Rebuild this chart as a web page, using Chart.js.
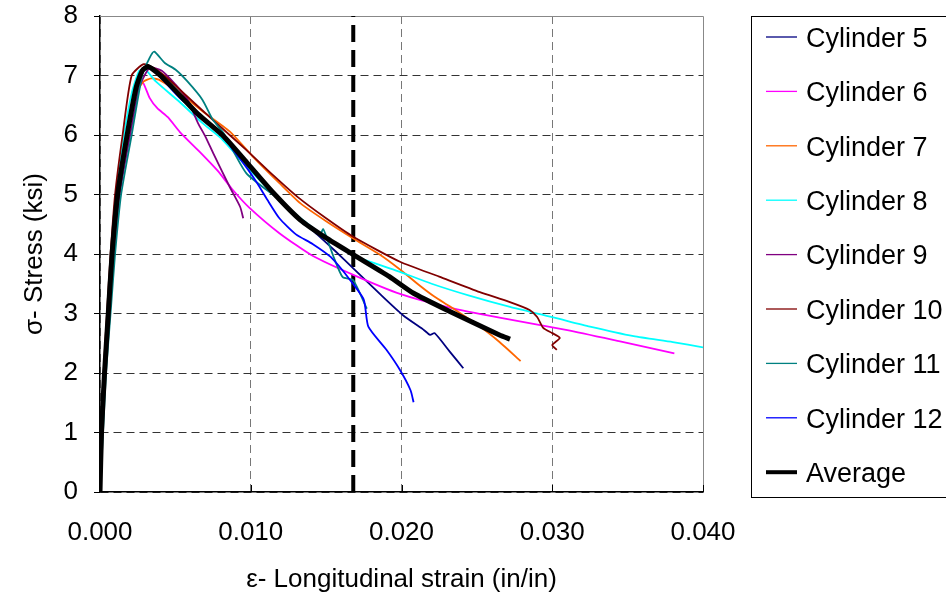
<!DOCTYPE html>
<html>
<head>
<meta charset="utf-8">
<script src="https://cdn.jsdelivr.net/npm/chart.js@4.4.0/dist/chart.umd.min.js"></script>
<style>
  body { margin: 0; background: #fff; }
  #wrap { width: 946px; height: 603px; }
</style>
</head>
<body>
<div id="wrap"><canvas id="stressStrain"></canvas></div>
<script>
// series: [strain (in/in), stress (ksi)]
const cylinder5 = [[0,0],[0.0001,1],[0.0003,2],[0.00055,3],[0.0008,4],[0.00115,5],[0.0018,6],[0.0024,6.85],[0.003,7.15],[0.0036,7.1],[0.0045,6.9],[0.006,6.5],[0.008,6.0],[0.0097,5.55],[0.0111,5.13],[0.0128,4.7],[0.0144,4.33],[0.0156,4.05],[0.0168,3.76],[0.0186,3.32],[0.0201,2.97],[0.0215,2.72],[0.0219,2.64],[0.0222,2.67],[0.0232,2.36],[0.0241,2.08]]
const cylinder6 = [[0,0],[0.0001,1],[0.0003,2],[0.00055,3],[0.0008,4],[0.0012,5],[0.0018,6],[0.0024,6.75],[0.0028,6.9],[0.0033,6.62],[0.0038,6.45],[0.0045,6.3],[0.0053,6.05],[0.0066,5.72],[0.0078,5.4],[0.0088,5.08],[0.0099,4.78],[0.0119,4.35],[0.0141,3.97],[0.0168,3.65],[0.0199,3.33],[0.0232,3.1],[0.0265,2.93],[0.031,2.72],[0.0345,2.53],[0.0381,2.33]]
const cylinder7 = [[0,0],[0.0001,1],[0.0003,2],[0.00055,3],[0.0008,4],[0.00115,5],[0.0018,6],[0.0024,6.7],[0.0029,6.9],[0.0034,6.95],[0.0039,6.93],[0.0053,6.7],[0.0068,6.4],[0.0086,6.06],[0.0102,5.62],[0.0119,5.19],[0.0133,4.85],[0.015,4.55],[0.0168,4.26],[0.0185,4.0],[0.0199,3.74],[0.0212,3.47],[0.0222,3.28],[0.0232,3.12],[0.0252,2.78],[0.0265,2.52],[0.0279,2.2]]
const cylinder8 = [[0,0],[0.0001,1.1],[0.0003,2.1],[0.0005,3],[0.00075,4],[0.0011,5],[0.0016,6],[0.0021,6.7],[0.0026,7.08],[0.003,7.1],[0.0037,6.9],[0.0053,6.55],[0.0068,6.2],[0.008,5.95],[0.0098,5.45],[0.0116,4.98],[0.0133,4.6],[0.015,4.28],[0.0168,3.98],[0.0185,3.82],[0.0199,3.7],[0.022,3.5],[0.0245,3.3],[0.0272,3.11],[0.03,2.94],[0.0325,2.78],[0.0354,2.62],[0.038,2.52],[0.04,2.43]]
const cylinder9 = [[0,0],[0.0001,1],[0.0003,2],[0.0006,3],[0.0009,4],[0.0013,5],[0.002,6],[0.0026,6.8],[0.0033,7.13],[0.0041,7.08],[0.005,6.85],[0.0058,6.6],[0.0065,6.2],[0.007,5.97],[0.0075,5.7],[0.0086,5.13],[0.0093,4.79],[0.0095,4.6]]
const cylinder10 = [[0,0],[0.0001,1.2],[0.0003,2.3],[0.00046,3],[0.0007,4],[0.001,5],[0.0015,6],[0.0021,7],[0.0029,7.19],[0.0036,7.12],[0.0045,6.95],[0.0053,6.76],[0.0075,6.25],[0.0097,5.75],[0.0115,5.32],[0.0131,4.96],[0.015,4.6],[0.0168,4.29],[0.0199,3.87],[0.0225,3.62],[0.0252,3.36],[0.0271,3.2],[0.0285,3.06],[0.029,2.94],[0.0294,2.76],[0.03,2.67],[0.0305,2.59],[0.03,2.47],[0.0303,2.39]]
const cylinder11 = [[0,0],[0.0002,1],[0.0004,2],[0.0007,3],[0.001,4],[0.0014,5],[0.0021,6],[0.0028,7],[0.0033,7.3],[0.0036,7.4],[0.0043,7.21],[0.005,7.1],[0.0058,6.9],[0.0068,6.59],[0.0075,6.25],[0.0082,6.03],[0.0097,5.36],[0.0119,4.91],[0.0133,4.55],[0.0146,4.33],[0.0148,4.42],[0.015,4.3],[0.0155,3.95],[0.0161,3.61],[0.0168,3.56],[0.0177,3.08]]
const cylinder12 = [[0,0],[0.0001,1],[0.0003,2],[0.00055,3],[0.0008,4],[0.0012,5],[0.0018,6],[0.0024,6.85],[0.003,7.15],[0.0037,7.05],[0.0053,6.62],[0.0068,6.3],[0.0082,5.95],[0.0097,5.46],[0.0104,5.2],[0.0111,4.91],[0.0119,4.6],[0.013,4.33],[0.0141,4.17],[0.0153,3.95],[0.0166,3.56],[0.0175,3.23],[0.0178,2.78],[0.019,2.39],[0.0199,2.05],[0.0206,1.71],[0.0208,1.51]]
const average = [[0,0],[0.0001,1],[0.0003,2],[0.00055,3],[0.0008,4],[0.00117,5],[0.0018,6],[0.0024,6.8],[0.0028,7.08],[0.0032,7.15],[0.004,7.0],[0.0053,6.67],[0.0065,6.35],[0.0082,5.98],[0.0098,5.52],[0.0116,5.0],[0.0133,4.57],[0.015,4.27],[0.0168,3.99],[0.0192,3.62],[0.0208,3.34],[0.023,3.06],[0.0265,2.64],[0.0272,2.57]]

const limitStrain = 0.0168
const limitLine = [[limitStrain, 0], [limitStrain, 8]]

const seriesLabels = ["Cylinder 5", "Cylinder 6", "Cylinder 7", "Cylinder 8", "Cylinder 9", "Cylinder 10", "Cylinder 11", "Cylinder 12", "Average"]
const seriesData = [cylinder5, cylinder6, cylinder7, cylinder8, cylinder9, cylinder10, cylinder11, cylinder12, average]
const seriesColors = ["#000080", "#FF00FF", "#FF6600", "#00FFFF", "#800080", "#800000", "#008080", "#0000FF", "#000000"]

const FONT = '"Liberation Sans", Arial, sans-serif'

const toPoints = (arr) => arr.map(([x, y]) => ({ x, y }))

const datasets = seriesData.map((arr, i) => {
  const isAvg = seriesLabels[i] === "Average"
  return {
    label: seriesLabels[i],
    data: toPoints(arr),
    borderColor: seriesColors[i],
    borderWidth: isAvg ? 5 : 1.8,
    legendWidth: isAvg ? 4 : 1.3,
    inLegend: true,
    showLine: true,
    pointRadius: 0,
    tension: 0.2,
    order: isAvg ? 0 : seriesData.length - 1 - i,
  }
})

datasets.push({
  label: "limit",
  data: toPoints(limitLine),
  borderColor: "#000",
  borderWidth: 4,
  borderDash: [17, 8],
  inLegend: false,
  showLine: true,
  pointRadius: 0,
  order: 20,
})

// frame, inner x ticks and the boxed legend
const decorations = {
  id: "decorations",
  beforeDatasetsDraw(chart) {
    const { ctx, chartArea: a, scales } = chart
    ctx.save()
    ctx.strokeStyle = "#888"
    ctx.lineWidth = 1
    ctx.beginPath()
    ctx.moveTo(a.left, Math.round(a.top) + 0.5)
    ctx.lineTo(Math.round(a.right) + 0.5, Math.round(a.top) + 0.5)
    ctx.lineTo(Math.round(a.right) + 0.5, a.bottom)
    ctx.stroke()
    ctx.strokeStyle = "#000"
    ctx.beginPath()
    for (let v = 0.01; v < 0.0401; v += 0.01) {
      const px = Math.round(scales.x.getPixelForValue(v)) + 0.5
      ctx.moveTo(px, a.bottom)
      ctx.lineTo(px, a.bottom - 7)
    }
    ctx.stroke()
    ctx.restore()
  },
  afterDraw(chart) {
    const { ctx } = chart
    ctx.save()
    ctx.strokeStyle = "#000"
    ctx.lineWidth = 1
    ctx.strokeRect(751.5, 16.5, 230, 481)
    ctx.font = "27px " + FONT
    ctx.fillStyle = "#000"
    ctx.textBaseline = "alphabetic"
    chart.data.datasets.filter((d) => d.inLegend).forEach((d, i) => {
      const y = 37 + i * 54.4
      ctx.strokeStyle = d.borderColor
      ctx.lineWidth = d.legendWidth
      ctx.beginPath()
      ctx.moveTo(766, y)
      ctx.lineTo(797, y)
      ctx.stroke()
      ctx.fillText(d.label, 806, y + 9.7)
    })
    ctx.restore()
  },
}

new Chart(document.getElementById("stressStrain"), {
  type: "scatter",
  data: { datasets },
  plugins: [decorations],
  options: {
    responsive: true,
    maintainAspectRatio: false,
    animation: false,
    layout: { padding: { top: 16, right: 243, bottom: 0, left: 0 } },
    plugins: {
      legend: { display: false },
      tooltip: { enabled: false },
    },
    scales: {
      x: {
        type: "linear",
        min: 0,
        max: 0.04,
        afterFit: (scale) => { scale.height = 111 },
        ticks: {
          stepSize: 0.01,
          callback: (v) => v.toFixed(3),
          color: "#000",
          font: { family: FONT, size: 26 },
          padding: 25,
          maxRotation: 0,
        },
        grid: {
          color: (c) => (c.tick && c.tick.value >= 0.0399 ? "rgba(0,0,0,0)" : "#777"),
          drawTicks: false,
        },
        border: { display: true, color: "#000", width: 1.5, dash: [8, 5] },
        title: {
          display: true,
          text: "ε- Longitudinal strain (in/in)",
          color: "#000",
          font: { family: FONT, size: 26 },
          padding: { top: 0, bottom: 8 },
        },
      },
      y: {
        min: 0,
        max: 8,
        afterFit: (scale) => {
          scale.width = 100
          scale.paddingTop = 0
          scale.paddingBottom = 0
        },
        ticks: {
          stepSize: 1,
          color: "#000",
          font: { family: FONT, size: 26 },
          padding: 16,
        },
        grid: {
          color: (c) => (c.tick && c.tick.value >= 8 ? "rgba(0,0,0,0)" : "#333"),
          tickColor: "#000",
          tickLength: 6,
          tickBorderDash: [],
        },
        border: { display: true, color: "#000", width: 1.5, dash: [8, 5] },
        title: {
          display: true,
          text: "σ- Stress (ksi)",
          color: "#000",
          font: { family: FONT, size: 26 },
          padding: { top: 19, bottom: 0 },
        },
      },
    },
  },
})
</script>
</body>
</html>
